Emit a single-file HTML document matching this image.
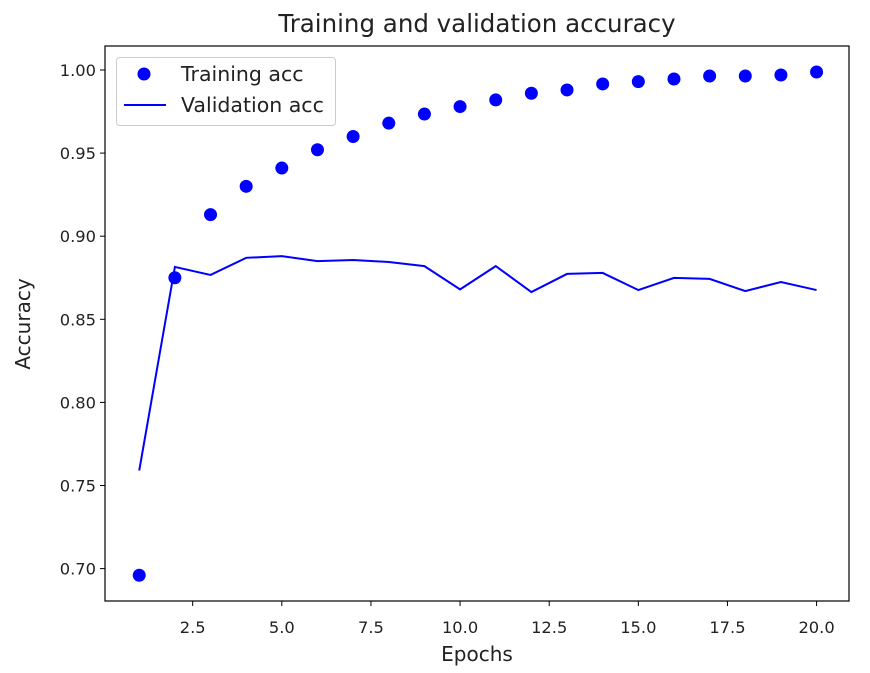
<!DOCTYPE html>
<html><head><meta charset="utf-8"><style>
body{margin:0;background:#fff}
svg text{font-family:"DejaVu Sans","Liberation Sans",sans-serif;fill:#222}
</style></head><body>
<svg width="870" height="668">
<g id="plot"></g>
</svg>
<script>
const epochs=[1,2,3,4,5,6,7,8,9,10,11,12,13,14,15,16,17,18,19,20];
const trainAcc=[0.696,0.875,0.913,0.930,0.941,0.952,0.960,0.968,0.9735,0.978,0.982,0.986,0.988,0.9916,0.993,0.9946,0.9964,0.9964,0.997,0.9988];
const valAcc=[0.759,0.8815,0.8767,0.887,0.888,0.885,0.8857,0.8845,0.882,0.868,0.882,0.8664,0.8773,0.8779,0.8676,0.8749,0.8743,0.867,0.8724,0.8676];
const xTicks=[2.5,5.0,7.5,10.0,12.5,15.0,17.5,20.0];
const yTicks=[0.70,0.75,0.80,0.85,0.90,0.95,1.00];
const L=105,R=849,T=46,B=601;
const sx=v=>192.7+(v-2.5)*35.65;
const sy=v=>70+(1-v)*1662;
const NS='http://www.w3.org/2000/svg';
const g=document.getElementById('plot');
function mk(tag,attrs,text){const e=document.createElementNS(NS,tag);for(const k in attrs)e.setAttribute(k,attrs[k]);if(text!==undefined)e.textContent=text;g.appendChild(e);return e;}
let e;
e=mk('rect',{x:L,y:T,width:R-L,height:B-T,fill:'none',stroke:'#000','stroke-width':1.2});


xTicks.forEach(t=>{
 e=mk('line',{x1:sx(t),x2:sx(t),y1:B,y2:B+5,stroke:'#000'});
 
 
 e=mk('text',{x:sx(t),y:B+32,'text-anchor':'middle','font-size':16.3},t.toFixed(1));
 
 
});
yTicks.forEach(t=>{
 e=mk('line',{x1:L-5,x2:L,y1:sy(t),y2:sy(t),stroke:'#000'});
 
 
 e=mk('text',{x:L-9,y:sy(t)+6,'text-anchor':'end','font-size':16.3},t.toFixed(2));
 
 
});
e=mk('polyline',{points:epochs.map((x,i)=>sx(x)+','+sy(valAcc[i])).join(' '),fill:'none',stroke:'#0000ff','stroke-width':2});


epochs.forEach((x,i)=>{
 e=mk('circle',{cx:sx(x),cy:sy(trainAcc[i]),r:6.5,fill:'#0000ff'});
 
 
});
e=mk('text',{x:477,y:32,'text-anchor':'middle','font-size':24.5},'Training and validation accuracy');


e=mk('text',{x:477,y:661,'text-anchor':'middle','font-size':20},'Epochs');


e=mk('text',{x:30,y:324,'text-anchor':'middle','font-size':20,transform:'rotate(-90 30 324)'},'Accuracy');


e=mk('rect',{x:116.5,y:57.5,width:219,height:68,rx:3,fill:'#fff',stroke:'#ccc'});


e=mk('circle',{cx:144,cy:74,r:6.5,fill:'#0000ff'});


e=mk('text',{x:181,y:81,'font-size':20.5},'Training acc');


e=mk('line',{x1:124,x2:166,y1:105,y2:105,stroke:'#0000ff','stroke-width':2});


e=mk('text',{x:181,y:112,'font-size':20.5},'Validation acc');


</script>
</body></html>
